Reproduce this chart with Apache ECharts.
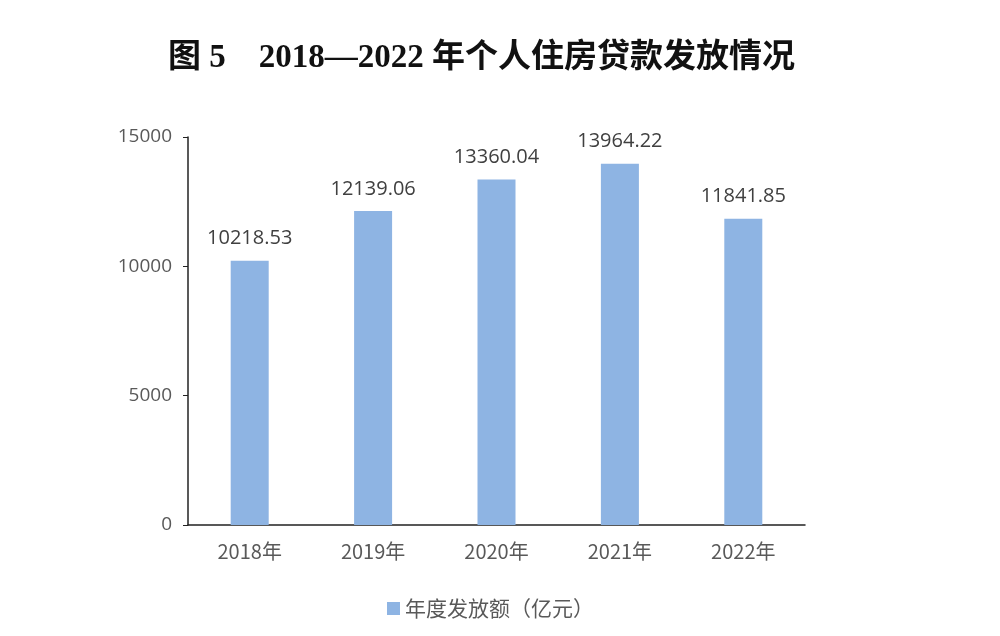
<!DOCTYPE html>
<html><head><meta charset="utf-8">
<script src="https://cdn.jsdelivr.net/npm/echarts@6/dist/echarts.min.js"></script>
<style>html,body{margin:0;padding:0;background:#fff}#c{width:1000px;height:636px}</style>
</head><body><div id="c"></div>
<script>
const titleText = '图 5　2018—2022 年个人住房贷款发放情况';
const categories = ['2018年', '2019年', '2020年', '2021年', '2022年'];
const seriesName = '年度发放额（亿元）';
const values = [10218.53, 12139.06, 13360.04, 13964.22, 11841.85];
const yTicks = [0, 5000, 10000, 15000];

const chart = echarts.init(document.getElementById('c'));
chart.setOption({
  backgroundColor: '#fff',
  animation: false,
  title: {
    text: titleText, left: 163, top: 37,
    textStyle: { fontFamily: '"Liberation Serif", "Noto Sans CJK SC", serif', fontWeight: 'bold', fontSize: 33, color: '#111' }
  },
  legend: {
    bottom: 12, left: 382, itemWidth: 13, itemHeight: 13, icon: 'rect', itemGap: 10,
    textStyle: { fontFamily: '"Noto Sans CJK SC", sans-serif', fontSize: 21, color: '#595959' },
    data: [seriesName]
  },
  grid: { left: 188, right: 195, top: 137, bottom: 111, containLabel: false },
  xAxis: {
    type: 'category', data: categories,
    axisLine: { lineStyle: { color: '#222', width: 1.5 } },
    axisTick: { show: false },
    axisLabel: { fontFamily: '"Noto Sans CJK SC", sans-serif', fontSize: 20, color: '#595959', margin: 16 }
  },
  yAxis: {
    type: 'value', min: yTicks[0], max: yTicks[yTicks.length - 1], interval: 5000,
    axisLine: { show: true, lineStyle: { color: '#222', width: 1.5 } },
    axisTick: { show: true, length: 5, lineStyle: { color: '#222' } },
    splitLine: { show: false },
    axisLabel: { fontFamily: '"Open Sans", "Noto Sans", sans-serif', fontSize: 19, color: '#595959', margin: 16,
      formatter: v => String(v) }
  },
  series: [{
    name: seriesName, type: 'bar', data: values, barWidth: 38,
    itemStyle: { color: '#8EB4E3' },
    label: { show: true, position: 'top', distance: 12, fontFamily: '"Open Sans", "Noto Sans", sans-serif', fontSize: 20, color: '#404040',
      formatter: p => p.value.toFixed(2) }
  }]
});
</script></body></html>
